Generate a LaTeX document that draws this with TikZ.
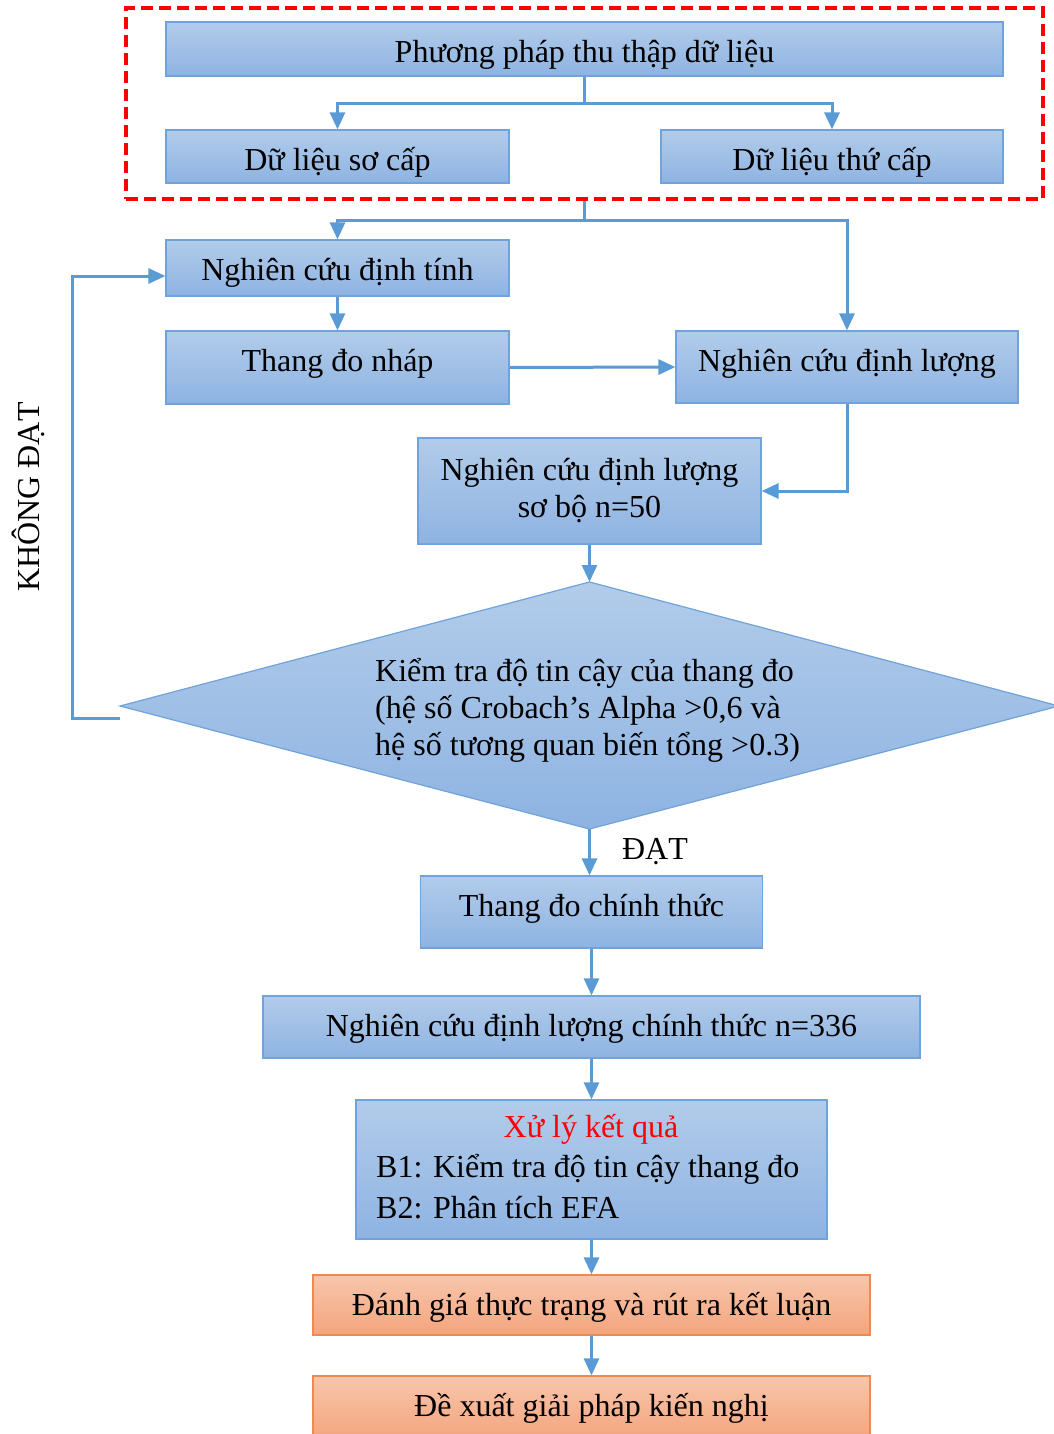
\documentclass[tikz,border=0pt]{standalone}
\usepackage{fontspec}
\setmainfont{Liberation Serif}
\usetikzlibrary{arrows.meta}
\definecolor{bTop}{HTML}{B2CCEA}
\definecolor{bBot}{HTML}{8EB3E2}
\definecolor{bLine}{HTML}{5B9BD5}
\definecolor{bEdge}{HTML}{6FA3DA}
\definecolor{oTop}{HTML}{F8C6AC}
\definecolor{oBot}{HTML}{F4A47D}
\definecolor{oEdge}{HTML}{F0894F}
\begin{document}
\begin{tikzpicture}[x=1pt,y=-1pt, font=\fontsize{32}{37}\selectfont,
  every node/.style={inner sep=0pt},
  bbox/.style={draw=bEdge, line width=1.2pt, top color=bTop, bottom color=bBot, text height=30pt},
  obox/.style={draw=oEdge, line width=1.2pt, top color=oTop, bottom color=oBot, text height=30pt},
  conn/.style={draw=bLine, line width=3pt},
  arr/.style={conn, -{Triangle[length=17pt,width=15pt]}},
]
\useasboundingbox (0,0) rectangle (1054,1434);

% group frame
\node[draw=red, line width=4pt, dash pattern=on 12pt off 6pt, minimum width=917pt, minimum height=191pt] (grp) at (584.5,103.5) {};

% boxes
\node[bbox, minimum width=837pt, minimum height=54pt, text depth=3pt] (ppt) at (584.5,49) {Phương pháp thu thập dữ liệu};
\node[bbox, minimum width=343pt, minimum height=53pt, text depth=2pt] (sc) at (337.5,156.5) {Dữ liệu sơ cấp};
\node[bbox, minimum width=342pt, minimum height=53pt, text depth=2pt] (tc) at (832,156.5) {Dữ liệu thứ cấp};
\node[bbox, minimum width=343pt, minimum height=56pt, text depth=5pt] (dt) at (337.5,268) {Nghiên cứu định tính};
\node[bbox, minimum width=343pt, minimum height=73pt, text depth=22pt] (nhap) at (337.5,367.5) {Thang đo nháp};
\node[bbox, minimum width=342pt, minimum height=72pt, text depth=21pt] (dl) at (847,367) {Nghiên cứu định lượng};
\node[bbox, minimum width=343pt, minimum height=106pt, align=center, text height=, text depth=] (sb) at (589.5,491) {Nghiên cứu định lượng\\sơ bộ n=50};

% diamond
\coordinate (dtop) at (589.5,582);
\coordinate (dleft) at (120,706);
\coordinate (dbot) at (589.5,829);
\coordinate (dright) at (1059,706);
\path[draw=bEdge, line width=1.2pt, top color=bTop, bottom color=bBot] (dtop) -- (dright) -- (dbot) -- (dleft) -- cycle;
\node[anchor=west, align=left] (dtxt) at (375,710) {Kiểm tra độ tin cậy của thang đo\\(hệ số Crobach’s Alpha >0,6 và\\hệ số tương quan biến tổng >0.3)};

\node[bbox, minimum width=342pt, minimum height=72pt, text depth=21pt] (ct) at (591.5,912) {Thang đo chính thức};
\node[bbox, minimum width=657pt, minimum height=62pt, text depth=11pt] (ctn) at (591.5,1027) {Nghiên cứu định lượng chính thức n=336};
\node[bbox, minimum width=471pt, minimum height=139pt, text height=, text depth=] (xl) at (591.5,1169.5) {};
\node[text=red] (xlt) at (591,1129) {Xử lý kết quả};
\node[anchor=west] (b1) at (376,1169) {B1: Kiểm tra độ tin cậy thang đo};
\node[anchor=west] (b2) at (376,1208) {B2: Phân tích EFA};
\node[obox, minimum width=557pt, minimum height=60pt, text depth=9pt] (dg) at (591.5,1305) {Đánh giá thực trạng và rút ra kết luận};
\node[obox, minimum width=557pt, minimum height=64pt, text depth=13pt] (dx) at (591.5,1408) {Đề xuất giải pháp kiến nghị};

% labels
\node (dat) at (655,852) {ĐẠT};
\node[rotate=90] (kdat) at (28,497) {KHÔNG ĐẠT};

% connectors
\draw[conn] (ppt.south) -- ++(0,27) coordinate (j1);
\draw[arr] (j1) -| (sc.north);
\draw[arr] (j1) -| (tc.north);
\draw[conn] (grp.south) -- ++(0,19) coordinate (j2);
\draw[arr] (j2) -| (dt.north);
\draw[arr] (j2) -| (dl.north);
\draw[arr] (dt.south) -- (nhap.north);
\draw[arr] (nhap.east) -- (dl.west);
\draw[arr] (dl.south) |- (sb.east);
\draw[arr] (sb.south) -- (dtop);
\coordinate (lp) at (120,718);
\draw[arr] (lp) -- ++(-48,0) |- ([yshift=-8pt]dt.west);
\draw[arr] (dbot) -- (dbot |- ct.north);
\draw[arr] (ct.south) -- (ctn.north);
\draw[arr] (ctn.south) -- (xl.north);
\draw[arr] (xl.south) -- (dg.north);
\draw[arr] (dg.south) -- (dx.north);
\end{tikzpicture}
\end{document}
